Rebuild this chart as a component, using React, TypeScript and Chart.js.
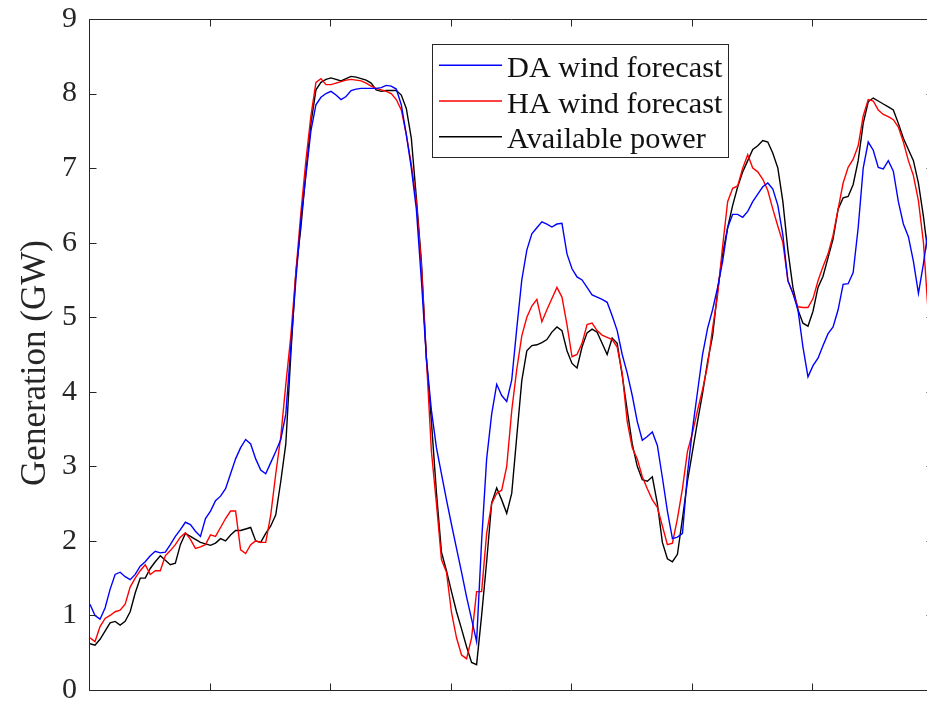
import React, { useEffect, useRef } from "react";
import { Chart, registerables } from "chart.js";

Chart.register(...registerables);

// Hourly values (GW), hour 0 .. 167
const daForecast = [
  1.15, 1.0, 0.95, 1.1, 1.35, 1.55, 1.58, 1.52, 1.48, 1.55,
  1.66, 1.72, 1.8, 1.86, 1.84, 1.85, 1.95, 2.06, 2.15, 2.25,
  2.22, 2.13, 2.06, 2.3, 2.4, 2.54, 2.6, 2.7, 2.9, 3.1,
  3.25, 3.36, 3.3, 3.1, 2.95, 2.9, 3.05, 3.2, 3.36, 3.7,
  4.6, 5.5, 6.3, 6.9, 7.5, 7.85, 7.95, 8.0, 8.03, 7.98,
  7.92, 7.96, 8.04, 8.06, 8.07, 8.07, 8.07, 8.07, 8.08, 8.11,
  8.1, 8.06, 7.85, 7.45, 7.0, 6.45, 5.5, 4.45, 3.75, 3.25,
  2.9, 2.55, 2.22, 1.9, 1.58, 1.25, 0.95, 0.65, 2.0, 3.1,
  3.7, 4.1, 3.95, 3.87, 4.16, 4.85, 5.5, 5.9, 6.12, 6.2,
  6.28, 6.25, 6.21, 6.25, 6.26, 5.85, 5.65, 5.54, 5.5, 5.4,
  5.3, 5.27, 5.24, 5.2, 5.02, 4.82, 4.5, 4.25, 3.95, 3.6,
  3.35, 3.4, 3.46, 3.28, 2.85, 2.4, 2.03, 2.05, 2.1, 2.9,
  3.5, 4.0, 4.5, 4.85, 5.1, 5.4, 5.75, 6.2, 6.38, 6.38,
  6.34, 6.42, 6.55, 6.65, 6.75, 6.8, 6.72, 6.5, 6.1, 5.49,
  5.32, 5.1, 4.6, 4.2, 4.35, 4.45, 4.62, 4.78, 4.87, 5.1,
  5.44, 5.45, 5.6, 6.2, 7.0, 7.35, 7.24, 7.01, 6.99, 7.1,
  6.96, 6.55, 6.25, 6.08, 5.75, 5.32, 5.72, 6.2,
];

const haForecast = [
  0.7, 0.65, 0.85, 0.96, 1.0, 1.05, 1.07, 1.15, 1.38, 1.5,
  1.6, 1.68, 1.55, 1.6, 1.6, 1.8, 1.87, 1.95, 2.05, 2.11,
  2.02, 1.9, 1.92, 1.95, 2.08, 2.06, 2.18, 2.3, 2.4, 2.4,
  1.88, 1.83, 1.95, 2.0, 1.98, 1.98, 2.35, 2.9, 3.4, 4.1,
  4.75, 5.6, 6.4, 7.1, 7.7, 8.15, 8.2, 8.12, 8.12, 8.14,
  8.16, 8.18, 8.19, 8.18, 8.17, 8.14, 8.1, 8.07, 8.05, 8.03,
  8.0, 7.92, 7.78, 7.45, 7.05, 6.55, 5.7, 4.45, 3.2, 2.5,
  1.75, 1.58, 1.04, 0.7, 0.47, 0.42, 0.7, 1.32, 1.32, 2.1,
  2.5, 2.64, 2.68, 3.0, 3.75, 4.3, 4.75, 5.0, 5.15, 5.24,
  4.94, 5.1, 5.25, 5.4, 5.27, 4.9, 4.47, 4.5, 4.65, 4.9,
  4.92, 4.82, 4.76, 4.73, 4.7, 4.6, 4.25, 3.6, 3.25, 3.1,
  2.86, 2.7, 2.55, 2.45, 2.2, 1.95, 1.97, 2.3, 2.7, 3.2,
  3.45, 3.75, 4.03, 4.35, 4.85, 5.3, 5.95, 6.55, 6.73, 6.76,
  7.0, 7.18, 7.0, 6.95, 6.85, 6.7, 6.45, 6.22, 6.0, 5.49,
  5.32, 5.14, 5.13, 5.13, 5.25, 5.49, 5.68, 5.85, 6.1, 6.45,
  6.8, 7.01, 7.12, 7.3, 7.7, 7.92, 7.9, 7.78, 7.72, 7.69,
  7.65, 7.55, 7.35, 7.1, 6.9, 6.56, 6.0, 5.0,
];

const availablePower = [
  0.62, 0.6, 0.68, 0.79, 0.9, 0.92, 0.87, 0.92, 1.05, 1.3,
  1.5, 1.5, 1.63, 1.72, 1.8, 1.74, 1.68, 1.7, 1.95, 2.1,
  2.06, 2.02, 1.98, 1.96, 1.94, 1.97, 2.03, 2.0, 2.08, 2.14,
  2.14, 2.16, 2.18, 2.0, 1.98, 2.1, 2.2, 2.35, 2.8, 3.3,
  4.5, 5.6, 6.2, 6.95, 7.6, 8.05, 8.15, 8.19, 8.21, 8.19,
  8.17, 8.2, 8.23, 8.22, 8.2, 8.18, 8.14, 8.05, 8.03, 8.04,
  8.04, 8.04, 7.98, 7.8, 7.4, 6.6, 5.75, 4.45, 3.6, 2.65,
  1.85, 1.6, 1.32, 1.05, 0.82, 0.58, 0.37, 0.34, 1.0, 1.72,
  2.51, 2.71, 2.55, 2.37, 2.64, 3.4, 4.15, 4.55, 4.62, 4.63,
  4.66, 4.7, 4.8, 4.87, 4.82, 4.55, 4.38, 4.32, 4.6, 4.79,
  4.84, 4.8, 4.65, 4.5, 4.72, 4.65, 4.22, 3.75, 3.3, 3.0,
  2.82, 2.8, 2.86, 2.5, 1.98, 1.76, 1.72, 1.82, 2.3, 2.8,
  3.2, 3.6, 3.98, 4.4, 4.75, 5.35, 5.85, 6.2, 6.5, 6.75,
  6.95, 7.1, 7.25, 7.3, 7.37, 7.35, 7.2, 7.0, 6.55, 5.9,
  5.4, 5.1, 4.92, 4.88, 5.08, 5.4, 5.55, 5.8, 6.05, 6.45,
  6.6, 6.62, 6.78, 7.1, 7.6, 7.89, 7.94, 7.9, 7.86, 7.82,
  7.78, 7.6, 7.4, 7.25, 7.1, 6.8, 6.35, 5.8,
];

const seriesNames = ["DA wind forecast", "HA wind forecast", "Available power"];
const seriesColors = ["#0000ff", "#ff0000", "#000000"];
const yTicks = [0, 1, 2, 3, 4, 5, 6, 7, 8, 9];
const xTicks = [0, 24, 48, 72, 96, 120, 144, 168];
const yTitle = "Generation (GW)";

const FONT = "'Liberation Serif', 'Times New Roman', serif";
const AXIS_COLOR = "#262626";

const toPoints = (arr: number[]) => arr.map((v, i) => ({ x: i, y: v }));

const framePlugin = {
  id: "matlabFrame",
  afterDraw(chart: any) {
    const { ctx, chartArea } = chart;
    const xs = chart.scales.x;
    const ys = chart.scales.y;
    const L = chartArea.left - 0.5;
    const R = chartArea.right;
    const T = chartArea.top + 0.5;
    const B = chartArea.bottom + 0.5;
    ctx.save();
    ctx.strokeStyle = AXIS_COLOR;
    ctx.lineWidth = 1;
    ctx.beginPath();
    ctx.moveTo(L, T);
    ctx.lineTo(R, T);
    ctx.moveTo(L, T);
    ctx.lineTo(L, B);
    ctx.lineTo(R, B);
    ctx.moveTo(R - 0.5, T);
    ctx.lineTo(R - 0.5, B);
    const tl = 7;
    xTicks.forEach((t) => {
      const px = Math.round(xs.getPixelForValue(t)) - 0.5;
      ctx.moveTo(px, B);
      ctx.lineTo(px, B - tl);
      ctx.moveTo(px, T);
      ctx.lineTo(px, T + tl);
    });
    yTicks.forEach((t) => {
      const py = Math.round(ys.getPixelForValue(t)) + 0.5;
      ctx.moveTo(L, py);
      ctx.lineTo(L + tl, py);
      ctx.moveTo(R, py);
      ctx.lineTo(R - tl, py);
    });
    ctx.stroke();

    // y-axis title
    ctx.save();
    ctx.translate(36, 363);
    ctx.rotate(-Math.PI / 2);
    ctx.font = `35px ${FONT}`;
    ctx.fillStyle = AXIS_COLOR;
    ctx.textAlign = "center";
    ctx.textBaseline = "middle";
    ctx.fillText(yTitle, 0, 0);
    ctx.restore();

    // legend
    const bx = 432.5, by = 44.5, bw = 296, bh = 113;
    ctx.fillStyle = "#ffffff";
    ctx.fillRect(bx, by, bw, bh);
    ctx.strokeStyle = AXIS_COLOR;
    ctx.strokeRect(bx, by, bw, bh);
    ctx.font = `30.3px ${FONT}`;
    ctx.textBaseline = "alphabetic";
    ctx.textAlign = "left";
    const baselines = [76.7, 112.5, 148.3];
    seriesNames.forEach((name, i) => {
      const ly = baselines[i] - 11.5;
      ctx.strokeStyle = seriesColors[i];
      ctx.lineWidth = 1.4;
      ctx.beginPath();
      ctx.moveTo(439, ly);
      ctx.lineTo(502, ly);
      ctx.stroke();
      ctx.fillStyle = "#111111";
      ctx.fillText(name, 507, baselines[i]);
    });
    ctx.restore();
  },
};

export default function App() {
  const ref = useRef<HTMLCanvasElement>(null);
  useEffect(() => {
    if (!ref.current) return;
    const chart = new Chart(ref.current, {
      type: "line",
      data: {
        datasets: [
          { label: seriesNames[0], data: toPoints(daForecast), borderColor: seriesColors[0] },
          { label: seriesNames[1], data: toPoints(haForecast), borderColor: seriesColors[1] },
          { label: seriesNames[2], data: toPoints(availablePower), borderColor: seriesColors[2] },
        ].map((d) => ({ ...d, borderWidth: 1.4, pointRadius: 0, tension: 0, fill: false })),
      },
      options: {
        animation: false,
        responsive: false,
        layout: { padding: { left: 0, top: 19, right: 6.5, bottom: 15 } },
        plugins: { legend: { display: false }, tooltip: { enabled: false } },
        scales: {
          x: { type: "linear", min: 0, max: 168, display: false },
          y: {
            type: "linear",
            min: 0,
            max: 9,
            afterFit: (s: any) => {
              s.width = 90;
              s.paddingTop = 0;
              s.paddingBottom = 0;
            },
            afterBuildTicks: (s: any) => { s.ticks = yTicks.map((v) => ({ value: v })); },
            grid: { display: false, drawTicks: false },
            border: { display: false },
            ticks: {
              padding: 13,
              color: AXIS_COLOR,
              font: { family: FONT, size: 30, lineHeight: 1 },
            },
          },
        },
      },
      plugins: [framePlugin],
    });
    return () => chart.destroy();
  }, []);
  return (
    <div style={{ position: "fixed", left: 0, top: 0, width: 927, height: 704, overflow: "hidden", background: "#fff" }}>
      <canvas ref={ref} width={940} height={705} style={{ display: "block" }} />
    </div>
  );
}
